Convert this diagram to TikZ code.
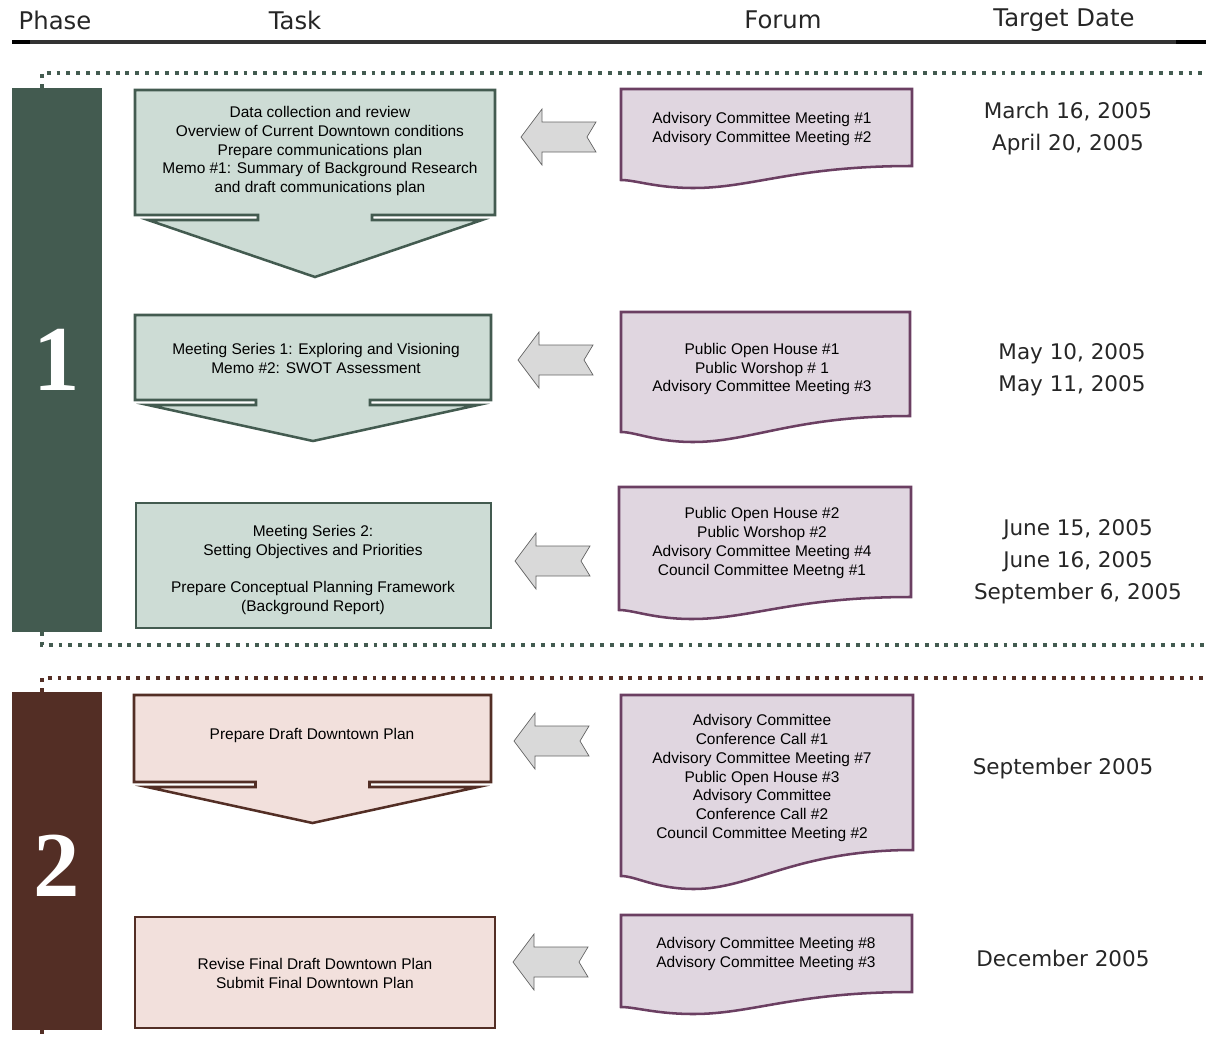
\documentclass[tikz,border=0pt]{standalone}
\usepackage{fontspec}
\setmainfont{Liberation Sans}
\newfontfamily\datefont{DejaVu Sans}
\newfontfamily\phasefont{Liberation Serif}

\definecolor{phaseone}{HTML}{435B50}
\definecolor{phaseonefill}{HTML}{CDDCD5}
\definecolor{phasetwo}{HTML}{532E25}
\definecolor{phasetwofill}{HTML}{F2E0DC}
\definecolor{forumline}{HTML}{6B3F62}
\definecolor{forumfill}{HTML}{E0D6E0}
\definecolor{arrowfill}{HTML}{D9D9D9}

% task box with a drop arrow under it: left, top, right, bottom, tip, style
\newcommand{\taskdrop}[6]{%
	\pgfmathsetmacro\tmid{(#1+#3)/2}
	\draw[#6] (#1,#2) -- (#3,#2) -- (#3,#4) -- ({\tmid+57},#4) -- ({\tmid+57},{#4+5})
		-- ({#3-13},{#4+5}) -- (\tmid,#5) -- ({#1+13},{#4+5}) -- ({\tmid-57},{#4+5})
		-- ({\tmid-57},#4) -- (#1,#4) -- cycle;
}
% forum sheet with wavy foot: left, top, right, foot right, dip, foot left
\newcommand{\forumdoc}[6]{%
	\pgfmathsetmacro\fw{#3-#1}
	\draw[forum] (#1,#2) -- (#3,#2) -- (#3,#4)
		.. controls ({#1+0.6*\fw},#4) and ({#1+0.45*\fw},#5) .. ({#1+0.25*\fw},#5)
		.. controls ({#1+0.12*\fw},#5) and ({#1+0.05*\fw},#6) .. (#1,#6) -- cycle;
}
% grey block arrow pointing left: tip x, centre y
\newcommand{\backarrow}[2]{%
	\draw[backblock] (#1,#2) -- ++(21,-28) -- ++(0,13) -- ++(54,0) -- ++(-9,15)
		-- ++(9,15) -- ++(-54,0) -- ++(0,13) -- cycle;
}

\begin{document}
\begin{tikzpicture}[x=0.025cm, y=-0.025cm,
	head/.style={font=\datefont\fontsize{17.3}{20}\selectfont, text=black!85},
	boxtext/.style={align=center, font=\fontsize{11}{13.5}\selectfont},
	datetext/.style={align=center, font=\datefont\fontsize{15.3}{22.7}\selectfont, text=black!85},
	phaseno/.style={text=white, font=\phasefont\bfseries\fontsize{66}{66}\selectfont},
	taskone/.style={draw=phaseone, fill=phaseonefill, line width=1.8pt},
	tasktwo/.style={draw=phasetwo, fill=phasetwofill, line width=1.8pt},
	forum/.style={draw=forumline, fill=forumfill, line width=1.8pt},
	backblock/.style={draw=black!60, fill=arrowfill, line width=0.5pt},
	dots/.style={line width=2.3pt, dash pattern=on 2.8pt off 4.2pt}]
	\useasboundingbox (0,0) rectangle (1206,1040);

	% header
	\node[head] (hphase) at (55,20) {Phase};
	\node[head] (htask) at (295,20) {Task};
	\node[head] (hforum) at (783,20) {Forum};
	\node[head] (hdate) at (1064,20) {Target Date};
	\draw[line width=2.2pt, color=black!80] (12,42) -- (1206,42);
	\draw[line width=2.2pt] (12,42) -- (30,42);
	\draw[line width=2.2pt] (1176,42) -- (1206,42);

	% phase bands
	\draw[dots, color=phaseone] (42,88) -- (42,73) -- (1206,73);
	\draw[dots, color=phaseone] (42,632) -- (42,645) -- (1206,645);
	\draw[dots, color=phasetwo] (42,692) -- (42,678) -- (1206,678);
	\draw[dots, color=phasetwo] (42,1030) -- (42,1040);
	\fill[phaseone] (12,88) rectangle (102,632);
	\fill[phasetwo] (12,692) rectangle (102,1030);
	\node[phaseno] (pone) at (57,360) {1};
	\node[phaseno] (ptwo) at (57,866) {2};

	% tasks
	\taskdrop{135}{90}{495}{215}{277}{taskone}
	\taskdrop{135}{315}{491}{400}{441}{taskone}
	\draw[taskone] (136,503) rectangle (491,628);
	\taskdrop{134}{695}{491}{782}{823}{tasktwo}
	\draw[tasktwo] (135,917) rectangle (495,1028);
	\node[boxtext] (task1) at (320,151) {Data collection and review\\
		Overview of Current Downtown conditions\\ Prepare communications plan\\
		Memo \#1: Summary of Background Research\\ and draft communications plan};
	\node[boxtext] (task2) at (316,358) {Meeting Series 1: Exploring and Visioning\\ Memo \#2: SWOT Assessment};
	\node[boxtext] (task3) at (313,570) {Meeting Series 2:\\ Setting Objectives and Priorities\\[13.5pt]
		Prepare Conceptual Planning Framework\\ (Background Report)};
	\node[boxtext] (task4) at (312,735) {Prepare Draft Downtown Plan};
	\node[boxtext] (task5) at (315,973) {Revise Final Draft Downtown Plan\\ Submit Final Downtown Plan};

	% forums
	\forumdoc{621}{89}{912}{166}{188}{180}
	\forumdoc{621}{312}{910}{416}{442}{432}
	\forumdoc{619}{487}{911}{597}{619}{610}
	\forumdoc{621}{695}{913}{850}{889}{876}
	\forumdoc{621}{915}{912}{992}{1014}{1007}
	\node[boxtext] (forum1) at (762,129) {Advisory Committee Meeting \#1\\ Advisory Committee Meeting \#2};
	\node[boxtext] (forum2) at (762,369) {Public Open House \#1\\ Public Worshop \# 1\\ Advisory Committee Meeting \#3};
	\node[boxtext] (forum3) at (762,543) {Public Open House \#2\\ Public Worshop \#2\\
		Advisory Committee Meeting \#4\\ Council Committee Meetng \#1};
	\node[boxtext] (forum4) at (762,778) {Advisory Committee\\ Conference Call \#1\\
		Advisory Committee Meeting \#7\\ Public Open House \#3\\ Advisory Committee\\
		Conference Call \#2\\ Council Committee Meeting \#2};
	\node[boxtext] (forum5) at (766,954) {Advisory Committee Meeting \#8\\ Advisory Committee Meeting \#3};

	% arrows from forum to task
	\backarrow{521}{137}
	\backarrow{518}{360}
	\backarrow{515}{561}
	\backarrow{514}{741}
	\backarrow{513}{962}

	% target dates
	\node[datetext] (date1) at (1068,129) {March 16, 2005\\ April 20, 2005};
	\node[datetext] (date2) at (1072,370) {May 10, 2005\\ May 11, 2005};
	\node[datetext] (date3) at (1078,562) {June 15, 2005\\ June 16, 2005\\ September 6, 2005};
	\node[datetext] (date4) at (1063,769) {September 2005};
	\node[datetext] (date5) at (1063,958) {December 2005};
\end{tikzpicture}
\end{document}
